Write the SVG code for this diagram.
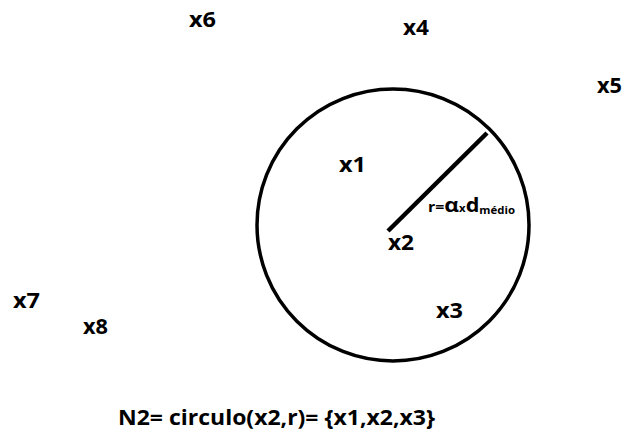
<svg xmlns="http://www.w3.org/2000/svg" width="624" height="432" viewBox="0 0 624 432">
<style>
.lbl{font-family:"Open Sans","Liberation Sans",sans-serif;font-weight:bold;font-size:21px;fill:#000}
.cap{font-family:"Open Sans","Liberation Sans",sans-serif;font-weight:bold;font-size:22px;fill:#000}
.rl{font-family:"Open Sans","Liberation Sans",sans-serif;font-weight:bold;fill:#000}
</style>
<rect width="624" height="432" fill="#fff"/>
<g id="circle">
<circle cx="393" cy="225" r="136" fill="none" stroke="#000" stroke-width="3.5"/>
</g>
<g id="connectors">
<line x1="388" y1="231" x2="487" y2="133" stroke="#000" stroke-width="4.5"/>
</g>
<g id="x6"><text class="lbl" x="189" y="27" textLength="27" lengthAdjust="spacingAndGlyphs">x6</text></g>
<g id="x4"><text class="lbl" x="403" y="35" textLength="26" lengthAdjust="spacingAndGlyphs">x4</text></g>
<g id="x5"><text class="lbl" x="597" y="93" textLength="25" lengthAdjust="spacingAndGlyphs">x5</text></g>
<g id="x1"><text class="lbl" x="339" y="172" textLength="27" lengthAdjust="spacingAndGlyphs">x1</text></g>
<g id="x2"><text class="lbl" x="388" y="250" textLength="26" lengthAdjust="spacingAndGlyphs">x2</text></g>
<g id="x3"><text class="lbl" x="436" y="318" textLength="27" lengthAdjust="spacingAndGlyphs">x3</text></g>
<g id="x7"><text class="lbl" x="13" y="308" textLength="27" lengthAdjust="spacingAndGlyphs">x7</text></g>
<g id="x8"><text class="lbl" x="83" y="334" textLength="25" lengthAdjust="spacingAndGlyphs">x8</text></g>
<g id="radius-label"><text class="rl" x="428" y="212" textLength="87" lengthAdjust="spacingAndGlyphs"><tspan font-size="14">r=</tspan><tspan font-size="20">α</tspan><tspan font-size="10">x</tspan><tspan font-size="19">d</tspan><tspan font-size="10" dy="2">médio</tspan></text></g>
<g id="caption"><text class="cap" x="118" y="425" textLength="317" lengthAdjust="spacingAndGlyphs">N2= circulo(x2,r)= {x1,x2,x3}</text></g>
</svg>
